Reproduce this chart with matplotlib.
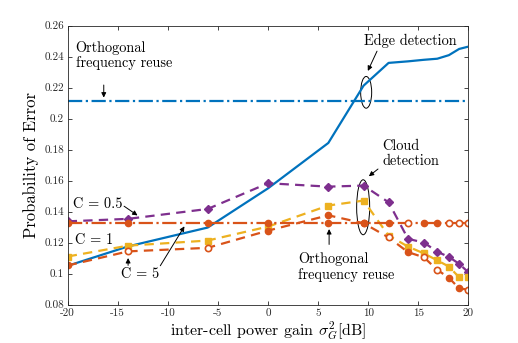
import matplotlib
matplotlib.use("Agg")
import matplotlib.pyplot as plt
from matplotlib.patches import Ellipse

plt.rcParams['font.family'] = ['cmr10', 'DejaVu Serif']
plt.rcParams['mathtext.fontset'] = 'cm'
plt.rcParams['axes.unicode_minus'] = False
plt.rcParams['axes.formatter.use_mathtext'] = True

# inter-cell power gain [dB]
gain_db = [-20, -13.98, -6.02, 0, 6.02, 9.54, 12.04, 13.98, 15.56, 16.9, 18.06, 19.08, 20]

edge_det = [0.105, 0.1175, 0.1297, 0.155, 0.1843, 0.2213, 0.236, 0.237, 0.238, 0.2387, 0.241, 0.245, 0.2465]
edge_ofr = [0.2115] * len(gain_db)

cloud_c05 = [0.1337, 0.1353, 0.1417, 0.1583, 0.1561, 0.1568, 0.146, 0.1224, 0.120, 0.1141, 0.1107, 0.1063, 0.1008]
cloud_c1 = [0.111, 0.118, 0.1213, 0.1303, 0.1439, 0.1471, 0.1245, 0.1174, 0.113, 0.1085, 0.1045, 0.0976, 0.0975]
cloud_c5 = [0.1052, 0.1143, 0.1166, 0.1277, 0.1376, 0.1325, 0.1233, 0.1138, 0.1105, 0.1024, 0.0972, 0.0905, 0.0895]
cloud_ofr = [0.1328] * len(gain_db)

blue = '#0072BD'
orange = '#D95319'
yellow = '#EDB120'
purple = '#7E2F8E'

fig = plt.figure(figsize=(5.18, 3.43), dpi=100)
ax = fig.add_axes([0.1307, 0.1122, 0.7734, 0.8128])

lw = 1.6
dash = (0, (4.2, 2.8))
ax.plot(gain_db, edge_ofr, '-.', color=blue, lw=lw)
ax.plot(gain_db, edge_det, '-', color=blue, lw=lw)
ax.plot(gain_db, cloud_c05, ls=dash, color=purple, lw=lw, marker='D', ms=4)
ax.plot(gain_db, cloud_c1, ls=dash, color=yellow, lw=lw, marker='s', ms=4)
ax.plot(gain_db, cloud_c5, ls=dash, color=orange, lw=lw, marker='o', ms=4.5,
        markevery=[0, 3, 4, 5, 7, 10, 11])
ax.plot(gain_db, cloud_c5, ls='none', color=orange, marker='o', ms=4.5, mew=1.2,
        mfc='white', markevery=[1, 2, 6, 8, 9, 12])
ax.plot(gain_db, cloud_ofr, '-.', color=orange, lw=lw, marker='o', ms=4.5,
        markevery=[0, 1, 2, 3, 4, 5, 6, 8, 9])
ax.plot(gain_db, cloud_ofr, ls='none', color=orange, marker='o', ms=4.5, mew=1.2,
        mfc='white', markevery=[7, 10, 11, 12])

ax.set_xlim(-20, 20)
ax.set_ylim(0.08, 0.26)
ax.set_xticks([-20, -15, -10, -5, 0, 5, 10, 15, 20])
ax.set_xticklabels(['-20', '-15', '-10', '-5', '0', '5', '10', '15', '20'])
ax.set_yticks([0.08, 0.1, 0.12, 0.14, 0.16, 0.18, 0.2, 0.22, 0.24, 0.26])
ax.set_yticklabels(['0.08', '0.1', '0.12', '0.14', '0.16', '0.18', '0.2', '0.22', '0.24', '0.26'])
ax.tick_params(direction='in', top=True, right=True, labelsize=8, colors='#262626',
               length=3, width=0.6, pad=2.5)
for s in ax.spines.values():
    s.set_color('#262626')
    s.set_linewidth(0.6)

ax.set_xlabel(r'inter-cell power gain $\sigma_G^2$[dB]', fontsize=11.5, labelpad=1)
ax.set_ylabel('Probability of Error', fontsize=12, labelpad=4)

txt = 10.3
arr = dict(arrowstyle='-|>', color='black', lw=0.7, mutation_scale=7)

ax.text(-19.2, 0.2406, 'Orthogonal\nfrequency reuse', fontsize=txt, va='center', linespacing=1.1)
ax.annotate('', xy=(-16.4, 0.2118), xytext=(-16.4, 0.2235), arrowprops=arr)

ax.text(9.6, 0.2503, 'Edge detection', fontsize=txt, va='center')
ax.annotate('', xy=(9.85, 0.2292), xytext=(11.0, 0.2452), arrowprops=arr)
ax.add_patch(Ellipse((9.8, 0.217), 1.1, 0.0205, fill=False, ec='black', lw=0.7))

ax.text(11.4, 0.1776, 'Cloud\ndetection', fontsize=txt, va='center', linespacing=1.1)
ax.annotate('', xy=(9.85, 0.1617), xytext=(11.2, 0.1686), arrowprops=arr)
ax.add_patch(Ellipse((9.5, 0.1428), 1.3, 0.0355, fill=False, ec='black', lw=0.7))

ax.text(3.0, 0.1042, 'Orthogonal\nfrequency reuse', fontsize=txt, va='center', linespacing=1.1)
ax.annotate('', xy=(6.1, 0.1305), xytext=(6.1, 0.117), arrowprops=arr)

ax.text(-19.5, 0.145, 'C = 0.5', fontsize=txt, va='center')
ax.annotate('', xy=(-12.8, 0.1365), xytext=(-14.6, 0.1445), arrowprops=arr)

ax.text(-19.3, 0.1213, 'C = 1', fontsize=txt, va='center')

ax.text(-12.8, 0.0998, 'C = 5', fontsize=txt, va='center', ha='center')
ax.annotate('', xy=(-13.97, 0.1118), xytext=(-13.97, 0.1035), arrowprops=arr)
ax.annotate('', xy=(-8.2, 0.132), xytext=(-10.9, 0.1035), arrowprops=arr)

fig.savefig('out.png', dpi=100)
